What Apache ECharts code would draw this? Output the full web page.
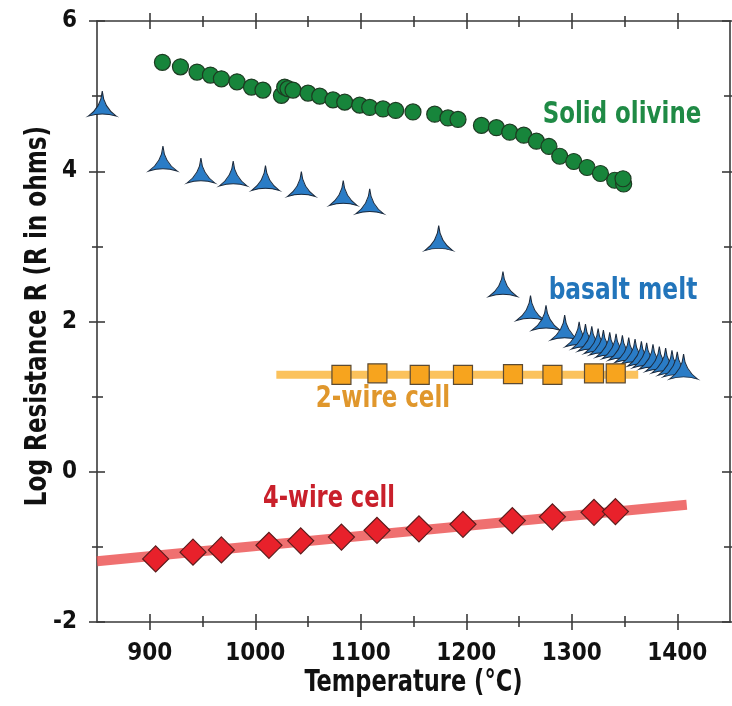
<!DOCTYPE html>
<html>
<head>
<meta charset="utf-8">
<script src="https://cdn.jsdelivr.net/npm/echarts@6/dist/echarts.min.js"></script>
<style>
html,body{margin:0;padding:0;background:#fff;}
#chart{width:732px;height:706px;}
</style>
</head>
<body>
<div id="chart"></div>
<script>
// ---- data ----
const olivineT = [912.0, 929.1, 944.8, 957.5, 967.9, 982.7, 996.4, 1007.3, 1024.8, 1027.9, 1031.0, 1035.8, 1050.0, 1061.1, 1073.7, 1084.8, 1099.0,
  1108.5, 1121.1, 1133.1, 1149.5, 1170.1, 1182.7, 1192.2, 1214.4, 1228.6, 1241.2, 1254.5, 1266.5, 1278.4, 1288.6, 1301.9, 1314.5, 1327.2, 1340.7, 1349.2, 1348.6];
const olivineR = [5.45, 5.39, 5.32, 5.28, 5.23, 5.19, 5.12, 5.08, 5.01, 5.12, 5.10, 5.08, 5.04, 5.00, 4.95, 4.92, 4.88,
  4.85, 4.83, 4.81, 4.79, 4.76, 4.71, 4.69, 4.61, 4.58, 4.52, 4.48, 4.40, 4.33, 4.20, 4.13, 4.05, 3.97, 3.88, 3.83, 3.90];

const basaltT = [855, 912.5, 948.5, 979.1, 1009.7, 1043.7, 1083.4, 1108.5, 1173.9, 1234.8, 1260.9, 1275.6, 1293.3,
  1307, 1313, 1319, 1325, 1330, 1336, 1342, 1348, 1354, 1360, 1366, 1371, 1377, 1383, 1389, 1395, 1400, 1406];
const basaltR = [4.90, 4.17, 4.01, 3.97, 3.91, 3.83, 3.71, 3.60, 3.11, 2.50, 2.18, 2.05, 1.92,
  1.83, 1.80, 1.77, 1.74, 1.72, 1.69, 1.67, 1.65, 1.62, 1.60, 1.57, 1.55, 1.53, 1.50, 1.48, 1.45, 1.43, 1.40];

const wire2T = [1081.7, 1115.8, 1155.9, 1196.9, 1244.3, 1281.7, 1321.1, 1341.7];
const wire2R = [1.29, 1.31, 1.29, 1.29, 1.30, 1.29, 1.31, 1.31];
const wire2LineT = [1020, 1363];
const wire2LineR = [1.29, 1.29];

const wire4T = [905.6, 941.0, 967.9, 1013.0, 1043.1, 1081.7, 1115.4, 1155.2, 1196.9, 1243.7, 1281.7, 1321.1, 1341.4];
const wire4R = [-1.16, -1.07, -1.04, -0.98, -0.92, -0.87, -0.78, -0.76, -0.70, -0.65, -0.60, -0.54, -0.53];
const wire4LineT = [850, 1409];
const wire4LineR = [-1.19, -0.44];

const xTickLabels = [900, 1000, 1100, 1200, 1300, 1400];
const xMinorTicks = [950, 1050, 1150, 1250, 1350];
const yTickLabels = [-2, 0, 2, 4, 6];
const yMinorTicks = [-1, 1, 3, 5];

const xRange = [850, 1450];
const yRange = [-2, 6];

// ---- chart ----
const FONT = '"DejaVu Sans Condensed", "Liberation Sans", sans-serif';
const AXIS_COLOR = '#3a3a3a';
const pair = (xs, ys) => xs.map((v, i) => [v, ys[i]]);

const gridBox = {left: 97, right: 2, top: 21, bottom: 84, containLabel: false};
// 4 grids: major-out, major-in, minor-out, minor-in
const tickSets = [
  {x: xTickLabels, y: yTickLabels, len: 8, inside: false},
  {x: xTickLabels, y: yTickLabels, len: 8, inside: true},
  {x: xMinorTicks, y: yMinorTicks, len: 5, inside: false},
  {x: xMinorTicks, y: yMinorTicks, len: 6, inside: true}
];
const labelStyle = {margin: 20, color: '#111', fontFamily: FONT, fontWeight: 'bold', fontSize: 24, formatter: v => String(v)};
const grids = [], xAxes = [], yAxes = [];
tickSets.forEach((ts, g) => {
  grids.push(Object.assign({}, gridBox));
  ['bottom', 'top'].forEach(pos => {
    const main = g === 0 && pos === 'bottom';
    xAxes.push({
      type: 'value', gridIndex: g, position: pos, min: xRange[0], max: xRange[1],
      axisLine: {show: g === 0, onZero: false, lineStyle: {color: AXIS_COLOR, width: 1.6}},
      axisTick: {show: true, inside: ts.inside, length: ts.len, customValues: ts.x, lineStyle: {color: AXIS_COLOR, width: 1.6}},
      axisLabel: main ? Object.assign({show: true, customValues: xTickLabels}, labelStyle) : {show: false},
      splitLine: {show: false}
    });
  });
  ['left', 'right'].forEach(pos => {
    const main = g === 0 && pos === 'left';
    yAxes.push({
      type: 'value', gridIndex: g, position: pos, min: yRange[0], max: yRange[1],
      axisLine: {show: g === 0, onZero: false, lineStyle: {color: AXIS_COLOR, width: 1.6}},
      axisTick: {show: true, inside: ts.inside, length: ts.len, customValues: ts.y, lineStyle: {color: AXIS_COLOR, width: 1.6}},
      axisLabel: main ? Object.assign({show: true, customValues: yTickLabels}, labelStyle) : {show: false},
      splitLine: {show: false}
    });
  });
});

const starPath = 'path://M50,0 C53,38 68,66 100,88 C68,78 32,78 0,88 C32,66 47,38 50,0 Z';

function label(text, x, y, color, size, sx, rot) {
  return {type: 'text', x: x, y: y, z: 10, scaleX: sx, rotation: rot || 0,
    style: {text: text, fill: color, font: 'bold ' + size + 'px ' + FONT, align: 'center', verticalAlign: 'middle'}};
}

const option = {
  backgroundColor: '#fff',
  animation: false,
  grid: grids,
  xAxis: xAxes,
  yAxis: yAxes,
  series: [
    {type: 'line', xAxisIndex: 0, yAxisIndex: 0, data: pair(wire4LineT, wire4LineR), symbol: 'none', z: 1,
      lineStyle: {color: 'rgba(236,80,80,0.82)', width: 10}},
    {type: 'line', xAxisIndex: 0, yAxisIndex: 0, data: pair(wire2LineT, wire2LineR), symbol: 'none', z: 1,
      lineStyle: {color: 'rgba(250,185,70,0.88)', width: 8}},
    {type: 'scatter', xAxisIndex: 0, yAxisIndex: 0, data: pair(olivineT, olivineR), symbol: 'circle', symbolSize: 16, z: 3,
      itemStyle: {color: '#17853b', borderColor: '#1d3b22', borderWidth: 1.2, opacity: 1}},
    {type: 'scatter', xAxisIndex: 0, yAxisIndex: 0, data: pair(basaltT, basaltR), symbol: starPath, symbolSize: [28, 25], z: 3,
      itemStyle: {color: '#2a7cc6', borderColor: '#1b2a3d', borderWidth: 1, opacity: 1}},
    {type: 'scatter', xAxisIndex: 0, yAxisIndex: 0, data: pair(wire2T, wire2R), symbol: 'rect', symbolSize: 19, z: 3,
      itemStyle: {color: '#f7a41e', borderColor: '#5b4a33', borderWidth: 1.2, opacity: 1}},
    {type: 'scatter', xAxisIndex: 0, yAxisIndex: 0, data: pair(wire4T, wire4R), symbol: 'diamond', symbolSize: 26, z: 3,
      itemStyle: {color: '#e8212b', borderColor: '#5a1c1c', borderWidth: 1.2, opacity: 1}}
  ],
  graphic: [
    label('Solid olivine', 622, 115, '#1f8a45', 30, 0.85),
    label('basalt melt', 623, 291, '#2275bb', 30, 0.865),
    label('2-wire cell', 383, 399, '#e0972c', 30, 0.85),
    label('4-wire cell', 329, 499, '#c9202b', 30, 0.835),
    label('Temperature (°C)', 413.5, 683, '#111', 30, 0.835),
    label('Log Resistance R (R in ohms)', 38.5, 316, '#111', 30, 0.857, Math.PI / 2)
  ]
};

const chart = echarts.init(document.getElementById('chart'), null, {renderer: 'canvas'});
chart.setOption(option);
</script>
</body>
</html>
